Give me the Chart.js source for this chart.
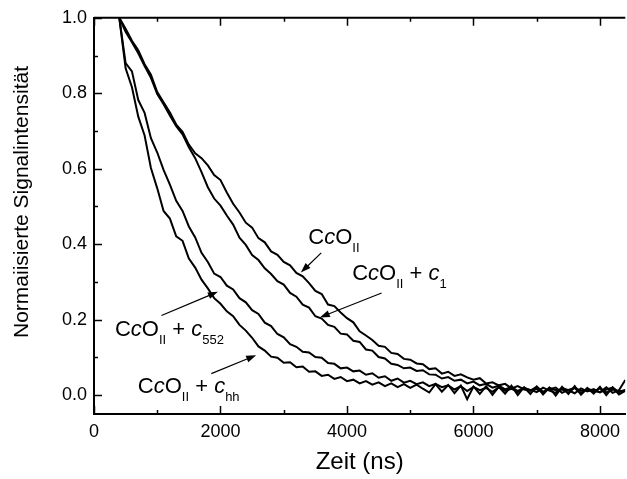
<!DOCTYPE html>
<html>
<head>
<meta charset="utf-8">
<script src="https://cdn.jsdelivr.net/npm/chart.js@4.4.0/dist/chart.umd.min.js"></script>
<style>
html, body { margin: 0; padding: 0; background: #fff; }
#wrap { width: 627px; height: 479px; }
</style>
</head>
<body>
<div id="wrap"><canvas id="c" width="627" height="479"></canvas></div>
<script>
// Zeit in ns (Abtastpunkte der vier Kurven)
const zeit = [400, 500, 600, 700, 800, 900, 1000, 1100, 1200, 1300, 1400, 1500, 1600, 1700, 1800, 1900,
    2000, 2100, 2200, 2300, 2400, 2500, 2600, 2700, 2800, 2900, 3000, 3100, 3200, 3300, 3400, 3500,
    3600, 3700, 3800, 3900, 4000, 4100, 4200, 4300, 4400, 4500, 4600, 4700, 4800, 4900, 5000, 5100,
    5200, 5300, 5400, 5500, 5600, 5700, 5800, 5900, 6000, 6100, 6200, 6300, 6400, 6500, 6600, 6700,
    6800, 6900, 7000, 7100, 7200, 7300, 7400, 7500, 7600, 7700, 7800, 7900, 8000, 8100, 8200, 8300, 8400];

// CcO_II
const ccoII = [1.000, 0.971, 0.939, 0.914, 0.877, 0.849, 0.803, 0.776, 0.749, 0.717, 0.698, 0.664, 0.641, 0.628, 0.609, 0.583,
    0.570, 0.537, 0.507, 0.484, 0.457, 0.444, 0.416, 0.405, 0.381, 0.372, 0.353, 0.344, 0.324, 0.315, 0.297, 0.276,
    0.268, 0.240, 0.236, 0.219, 0.204, 0.193, 0.169, 0.158, 0.146, 0.131, 0.128, 0.112, 0.109, 0.096, 0.094, 0.084,
    0.082, 0.069, 0.071, 0.057, 0.062, 0.051, 0.055, 0.047, 0.041, 0.045, 0.031, 0.034, 0.026, 0.030, 0.018, 0.024,
    0.015, 0.012, 0.022, 0.009, 0.016, 0.020, 0.006, 0.014, 0.019, 0.004, 0.017, 0.011, 0.008, 0.021, 0.006, 0.013, 0.040];

// CcO_II + c1
const ccoC1 = [1.000, 0.963, 0.935, 0.906, 0.872, 0.841, 0.798, 0.771, 0.741, 0.713, 0.691, 0.657, 0.628, 0.591, 0.551, 0.521,
    0.502, 0.476, 0.452, 0.417, 0.398, 0.371, 0.358, 0.336, 0.321, 0.302, 0.293, 0.271, 0.261, 0.240, 0.232, 0.209,
    0.203, 0.186, 0.181, 0.163, 0.161, 0.144, 0.141, 0.121, 0.118, 0.101, 0.097, 0.083, 0.080, 0.071, 0.073, 0.064,
    0.066, 0.055, 0.054, 0.044, 0.048, 0.038, 0.041, 0.031, 0.036, 0.026, 0.030, 0.020, 0.025, 0.015, 0.022, 0.011,
    0.019, 0.014, 0.008, 0.020, 0.012, 0.006, 0.019, 0.013, 0.005, 0.018, 0.010, 0.016, 0.007, 0.015, 0.020, 0.008, 0.014];

// CcO_II + c552
const ccoC552 = [1.000, 0.880, 0.858, 0.782, 0.748, 0.681, 0.643, 0.597, 0.558, 0.515, 0.488, 0.447, 0.418, 0.377, 0.353, 0.322,
    0.313, 0.290, 0.280, 0.257, 0.246, 0.225, 0.215, 0.192, 0.183, 0.162, 0.153, 0.135, 0.128, 0.115, 0.113, 0.101,
    0.099, 0.085, 0.083, 0.071, 0.073, 0.063, 0.065, 0.054, 0.058, 0.046, 0.050, 0.038, 0.044, 0.033, 0.038, 0.029,
    0.034, 0.024, 0.030, 0.021, 0.026, 0.015, 0.024, 0.011, 0.022, 0.013, 0.019, 0.009, 0.021, 0.011, 0.017, 0.008,
    0.020, 0.012, 0.016, 0.007, 0.019, 0.013, 0.015, 0.006, 0.020, 0.011, 0.014, 0.009, 0.018, 0.007, 0.015, 0.010, 0.012];

// CcO_II + chh
const ccoChh = [1.000, 0.866, 0.816, 0.738, 0.688, 0.602, 0.548, 0.488, 0.468, 0.421, 0.409, 0.362, 0.338, 0.306, 0.283, 0.257,
    0.242, 0.222, 0.209, 0.186, 0.171, 0.152, 0.129, 0.118, 0.102, 0.099, 0.086, 0.087, 0.074, 0.076, 0.062, 0.063,
    0.051, 0.054, 0.043, 0.048, 0.037, 0.041, 0.031, 0.037, 0.028, 0.034, 0.024, 0.031, 0.021, 0.029, 0.019, 0.028,
    0.017, 0.007, 0.029, 0.009, 0.027, 0.005, 0.025, -0.011, 0.023, 0.003, 0.024, 0.001, 0.022, 0.004, 0.025, 0.000,
    0.021, 0.003, 0.023, 0.002, 0.020, -0.001, 0.022, 0.003, 0.024, 0.001, 0.019, 0.004, 0.022, 0.000, 0.021, 0.002, 0.011];

const xTicks = [0, 1000, 2000, 3000, 4000, 5000, 6000, 7000, 8000];
const yTicks = [0.0, 0.1, 0.2, 0.3, 0.4, 0.5, 0.6, 0.7, 0.8, 0.9, 1.0];

// Beschriftungen: Textteile, Ankerpunkt (ns, Intensität), Pfeil von -> nach
const labels = [
    { at: [3389, 0.401], parts: [['C'], ['c', 'i'], ['O'], ['II', 's']],
      arrow: [[3593, 0.377], [3270, 0.325]] },
    { at: [4082, 0.304], parts: [['C'], ['c', 'i'], ['O'], ['II', 's'], [' + '], ['c', 'i'], ['1', 's']],
      arrow: [[4547, 0.2705], [3570, 0.206]] },
    { at: [331, 0.156], parts: [['C'], ['c', 'i'], ['O'], ['II', 's'], [' + '], ['c', 'i'], ['552', 's']],
      arrow: [[1067, 0.211], [1959, 0.274]] },
    { at: [693, 0.005], parts: [['C'], ['c', 'i'], ['O'], ['II', 's'], [' + '], ['c', 'i'], ['hh', 's']],
      arrow: [[1855, 0.057], [2564, 0.106]] }
];

const FONT = '"Liberation Sans", Arial, sans-serif';
const Y_TITLE = 'Normaiisierte Signalintensität';

function series(vals) {
    return zeit.map((t, i) => ({ x: t, y: vals[i] }));
}

const frame = {
    id: 'frame',
    afterDraw(chart) {
        const { ctx, chartArea: a, scales: { x, y } } = chart;
        ctx.save();
        ctx.strokeStyle = '#000';
        ctx.fillStyle = '#000';
        ctx.lineWidth = 2;
        ctx.beginPath();
        ctx.moveTo(a.left, a.top);
        ctx.lineTo(a.right, a.top);
        ctx.stroke();

        // Ticks nach innen
        ctx.lineWidth = 1.5;
        ctx.beginPath();
        xTicks.forEach(v => {
            const px = Math.round(x.getPixelForValue(v)) + 0.5;
            const len = v % 2000 === 0 ? 8 : 4;
            ctx.moveTo(px, a.bottom);
            ctx.lineTo(px, a.bottom - len);
            ctx.moveTo(px, a.top);
            ctx.lineTo(px, a.top + len);
        });
        yTicks.forEach((v, i) => {
            const py = Math.round(y.getPixelForValue(v)) + 0.5;
            const len = i % 2 === 0 ? 8 : 4;
            ctx.moveTo(a.left, py);
            ctx.lineTo(a.left + len, py);
        });
        ctx.stroke();

        // y-Achsentitel
        ctx.save();
        ctx.translate(22, 202);
        ctx.rotate(-Math.PI / 2);
        ctx.font = '21px ' + FONT;
        ctx.textAlign = 'center';
        ctx.textBaseline = 'middle';
        ctx.fillText(Y_TITLE, 0, 0);
        ctx.restore();

        // Beschriftungen mit Pfeilen
        ctx.textBaseline = 'alphabetic';
        labels.forEach(l => {
            let px = x.getPixelForValue(l.at[0]);
            const py = y.getPixelForValue(l.at[1]);
            l.parts.forEach(([t, k]) => {
                if (k === 's') {
                    ctx.font = '13px ' + FONT;
                    ctx.fillText(t, px, py + 8);
                } else {
                    ctx.font = (k === 'i' ? 'italic ' : '') + '22px ' + FONT;
                    ctx.fillText(t, px, py);
                }
                px += ctx.measureText(t).width;
            });

            const x1 = x.getPixelForValue(l.arrow[0][0]), y1 = y.getPixelForValue(l.arrow[0][1]);
            const x2 = x.getPixelForValue(l.arrow[1][0]), y2 = y.getPixelForValue(l.arrow[1][1]);
            const ang = Math.atan2(y2 - y1, x2 - x1);
            const hl = 10, hw = 3.5;
            ctx.lineWidth = 1.2;
            ctx.beginPath();
            ctx.moveTo(x1, y1);
            ctx.lineTo(x2 - Math.cos(ang) * hl * 0.8, y2 - Math.sin(ang) * hl * 0.8);
            ctx.stroke();
            ctx.beginPath();
            ctx.moveTo(x2, y2);
            ctx.lineTo(x2 - Math.cos(ang) * hl - Math.sin(ang) * hw, y2 - Math.sin(ang) * hl + Math.cos(ang) * hw);
            ctx.lineTo(x2 - Math.cos(ang) * hl + Math.sin(ang) * hw, y2 - Math.sin(ang) * hl - Math.cos(ang) * hw);
            ctx.closePath();
            ctx.fill();
        });
        ctx.restore();
    }
};

const line = vals => ({
    data: series(vals),
    borderColor: '#000',
    borderWidth: 2,
    pointRadius: 0,
    tension: 0,
    fill: false
});

new Chart(document.getElementById('c'), {
    type: 'line',
    data: { datasets: [line(ccoII), line(ccoC1), line(ccoC552), line(ccoChh)] },
    options: {
        responsive: false,
        animation: false,
        devicePixelRatio: 1,
        layout: { padding: { top: 16, right: 0, left: 0, bottom: 0 } },
        plugins: { legend: { display: false }, tooltip: { enabled: false } },
        scales: {
            x: {
                type: 'linear',
                min: 0,
                max: 8400,
                afterBuildTicks: s => { s.ticks = xTicks.map(v => ({ value: v })); },
                afterFit: s => { s.height = 65; },
                ticks: {
                    autoSkip: false,
                    maxRotation: 0,
                    padding: 7,
                    color: '#000',
                    font: { family: FONT, size: 18 },
                    callback: v => (v % 2000 === 0 ? String(v) : '')
                },
                grid: { drawOnChartArea: false, drawTicks: false },
                border: { color: '#000', width: 2 },
                title: {
                    display: true,
                    text: 'Zeit (ns)',
                    color: '#000',
                    font: { family: FONT, size: 24 },
                    padding: { top: 0, bottom: 2 }
                }
            },
            y: {
                min: -0.05,
                max: 1.0,
                afterBuildTicks: s => { s.ticks = yTicks.map(v => ({ value: v })); },
                afterFit: s => { s.width = 94; },
                ticks: {
                    autoSkip: false,
                    padding: 7,
                    color: '#000',
                    font: { family: FONT, size: 18 },
                    callback: (v, i) => (i % 2 === 0 ? v.toFixed(1) : '')
                },
                grid: { drawOnChartArea: false, drawTicks: false },
                border: { color: '#000', width: 2 }
            }
        }
    },
    plugins: [frame]
});
</script>
</body>
</html>
